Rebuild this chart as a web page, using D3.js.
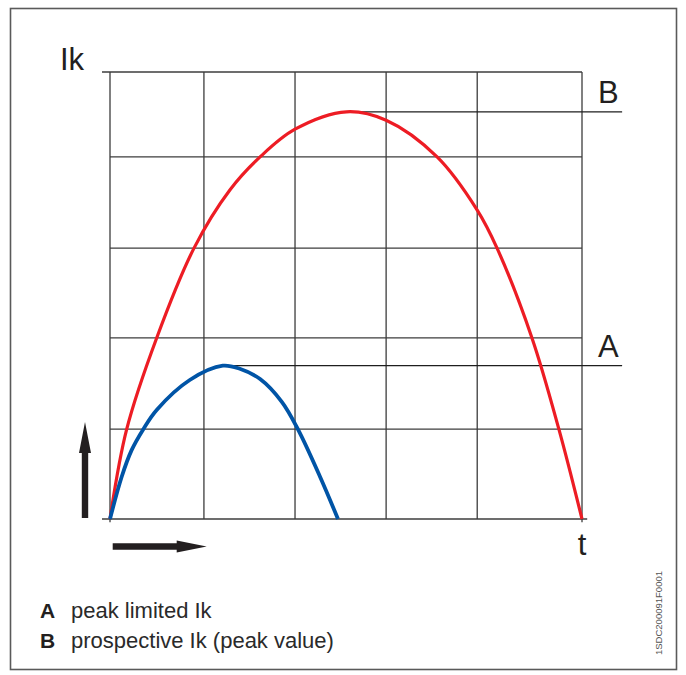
<!DOCTYPE html>
<html><head><meta charset="utf-8">
<script src="https://cdn.jsdelivr.net/npm/d3@7"></script>
<style>html,body{margin:0;padding:0;background:#fff;}svg{display:block;}</style>
</head><body>
<svg id="c" width="686" height="675"></svg>
<script>
// Data (t and Ik in percent of the prospective half-wave / peak)
const xGrid = [0, 19.9, 39.2, 58.5, 77.8, 100];
const yGrid = [0, 20.1, 40.5, 60.6, 81.0, 100];
const prospectiveT  = [0, 3.54, 9.89, 17.8, 25.4, 31.8, 39.2, 50.1, 58.5, 69.3, 77.8, 82.0, 89.4, 95.1, 100];
const prospectiveIk = [0, 20.1, 40.5, 60.6, 73.6, 81.0, 87.2, 91.1, 89.2, 81.0, 69.1, 60.6, 40.5, 20.1, 0];
const limitedT  = [0, 2.48, 4.58, 7.06, 9.89, 16.9, 23.9, 27.5, 31.8, 36.4, 39.8, 44.5, 48.3];
const limitedIk = [0, 9.46, 15.4, 20.1, 24.4, 31.1, 34.3, 33.6, 31.3, 26.2, 20.1, 9.46, 0];
const peakLabels = ["A", "B"];
const peakValues = [34.3, 91.1];
const peakTimes  = [23.9, 50.1];
const legendKeys = ["A", "B"];
const legendTexts = ["peak limited Ik", "prospective Ik (peak value)"];
const axisYLabel = "Ik", axisXLabel = "t", docCode = "1SDC200091F0001";

const svg = d3.select("#c");
const font = "'Liberation Sans', Arial, Helvetica, sans-serif";
const ink = "#231f20";

const x = d3.scaleLinear().domain([0, 100]).range([110, 582]);
const y = d3.scaleLinear().domain([0, 100]).range([519, 72]);

// frame
svg.append("rect").attr("x", 10.5).attr("y", 8.5).attr("width", 666).attr("height", 661)
  .attr("fill", "none").attr("stroke", "#5a5a5a").attr("stroke-width", 1.6);

const g = svg.append("g");
const gridColor = "#3c3c3c";
// horizontal grid
g.selectAll("line.h").data(yGrid).join("line")
  .attr("x1", (d, i) => (i === 0 || i === yGrid.length - 1) ? x(-1.7) : x(0))
  .attr("x2", (d, i) => i === 0 ? x(101.1) : x(100))
  .attr("y1", d => y(d)).attr("y2", d => y(d))
  .attr("stroke", gridColor).attr("stroke-width", 1.3);
// vertical grid
g.selectAll("line.v").data(xGrid).join("line")
  .attr("x1", d => x(d)).attr("x2", d => x(d))
  .attr("y1", y(100))
  .attr("y2", (d, i) => (i === 0 || i === xGrid.length - 1) ? y(-0.7) : y(0))
  .attr("stroke", gridColor).attr("stroke-width", 1.3);

// peak reference lines
g.selectAll("line.p").data(peakValues).join("line")
  .attr("x1", (d, i) => x(peakTimes[i])).attr("x2", x(108.5))
  .attr("y1", d => y(d)).attr("y2", d => y(d))
  .attr("stroke", "#1e1e1e").attr("stroke-width", 1.3);

const line = d3.line().x(d => x(d[0])).y(d => y(d[1])).curve(d3.curveCatmullRom.alpha(0.5));
g.append("path").datum(d3.zip(prospectiveT, prospectiveIk)).attr("d", line)
  .attr("fill", "none").attr("stroke", "#ed1c24").attr("stroke-width", 3.2);
g.append("path").datum(d3.zip(limitedT, limitedIk)).attr("d", line)
  .attr("fill", "none").attr("stroke", "#0054a6").attr("stroke-width", 3.8);

// labels A / B
g.selectAll("text.pk").data(peakLabels).join("text")
  .attr("x", 598).attr("y", (d, i) => y(peakValues[i]) - 8.5)
  .attr("font-family", font).attr("font-size", 31).attr("fill", ink).text(d => d);

svg.append("text").attr("x", 60).attr("y", 70).attr("font-family", font)
  .attr("font-size", 31).attr("fill", ink).text(axisYLabel);
svg.append("text").attr("x", x(100)).attr("y", 555).attr("text-anchor", "middle")
  .attr("font-family", font).attr("font-size", 31).attr("fill", ink).text(axisXLabel);

// arrows
const ax = x(0) - 25, ayb = y(0) - 1;
svg.append("path").attr("fill", ink)
  .attr("d", `M${ax - 3.2},${ayb} L${ax - 3.2},${ayb - 65} L${ax - 6},${ayb - 65} L${ax},${ayb - 96} L${ax + 6},${ayb - 65} L${ax + 3.2},${ayb - 65} L${ax + 3.2},${ayb} Z`);
const hy = y(0) + 27.5, hx = x(0) + 2.7;
svg.append("path").attr("fill", ink)
  .attr("d", `M${hx},${hy - 3.3} L${hx + 64},${hy - 3.3} L${hx + 64},${hy - 6} L${hx + 94},${hy} L${hx + 64},${hy + 6} L${hx + 64},${hy + 3.3} L${hx},${hy + 3.3} Z`);

// legend
const lg = svg.append("g");
legendKeys.forEach((k, i) => {
  const by = 618 + i * 30;
  lg.append("text").attr("x", 40).attr("y", by).attr("font-family", font).attr("font-weight", "bold")
    .attr("font-size", 21).attr("fill", ink).text(k);
  lg.append("text").attr("x", 71).attr("y", by).attr("font-family", font)
    .attr("font-size", 22).attr("fill", "#2a2a2a").text(legendTexts[i]);
});

// document code
svg.append("text").attr("transform", "translate(662,655) rotate(-90)")
  .attr("font-family", font).attr("font-size", 9.5).attr("fill", "#555").text(docCode);
</script>
</body></html>
